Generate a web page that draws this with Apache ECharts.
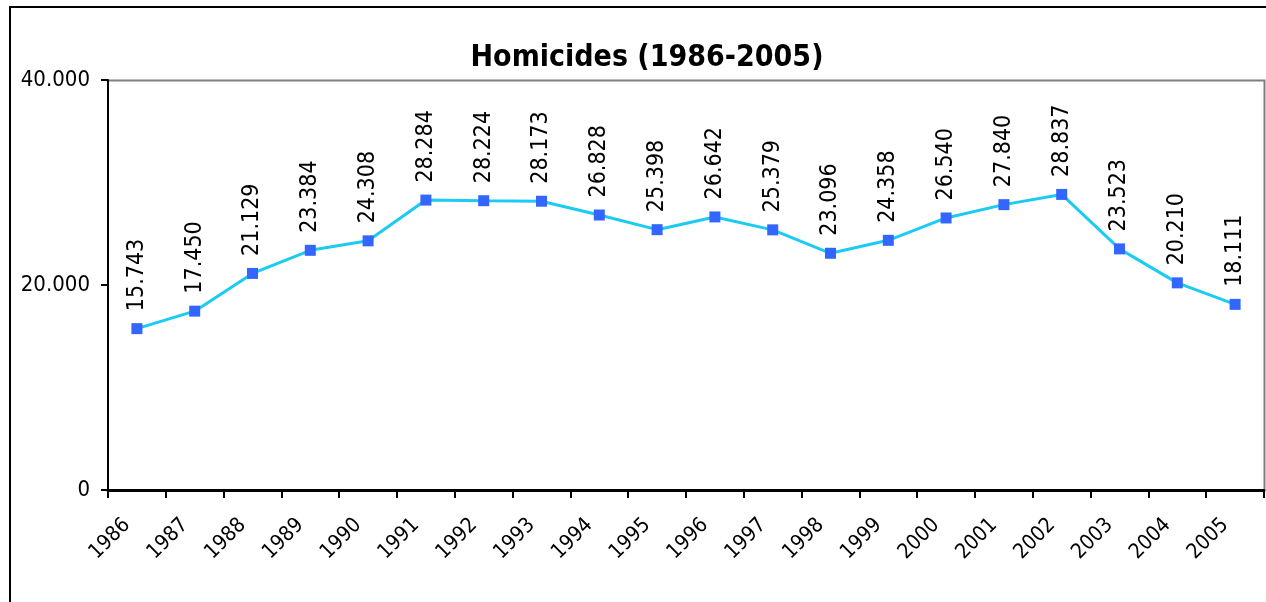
<!DOCTYPE html>
<html>
<head>
<meta charset="utf-8">
<script src="https://cdn.jsdelivr.net/npm/echarts@6/dist/echarts.min.js"></script>
<style>
  html, body { margin: 0; padding: 0; background: #fff; }
  #main { width: 1266px; height: 602px; }
</style>
</head>
<body>
<div id="main"></div>
<script>
// data
var years = ['1986','1987','1988','1989','1990','1991','1992','1993','1994','1995',
             '1996','1997','1998','1999','2000','2001','2002','2003','2004','2005'];
var homicides = [15743, 17450, 21129, 23384, 24308, 28284, 28224, 28173, 26828, 25398,
                 26642, 25379, 23096, 24358, 26540, 27840, 28837, 23523, 20210, 18111];
var yTicks = [0, 20000, 40000];

var font = '"DejaVu Sans Condensed", "DejaVu Sans", sans-serif';

// 15743 -> "15.743"
function fmt(v) {
	v = Math.round(v);
	if (v === 0) return '0';
	return String(v).replace(/\B(?=(\d{3})+(?!\d))/g, '.');
}

var myChart = echarts.init(document.getElementById('main'));
myChart.setOption({
	animation: false,
	backgroundColor: '#fff',
	title: {
		text: 'Homicides (1986-2005)',
		left: 642,
		top: 38,
		textAlign: 'center',
		textStyle: { fontFamily: font, fontWeight: 'bold', fontSize: 30, color: '#000' }
	},
	graphic: [
		{
			type: 'rect',
			shape: { x: 10, y: 7, width: 1400, height: 800 },
			style: { fill: 'none', stroke: '#000', lineWidth: 2 },
			silent: true
		},
		// gray frame on top / right of the plot
		{
			type: 'polyline',
			shape: { points: [[108, 80.5], [1264.5, 80.5], [1264.5, 490]] },
			style: { fill: 'none', stroke: '#808080', lineWidth: 2 },
			silent: true
		}
	],
	grid: { left: 108, top: 80, right: 2, bottom: 112, containLabel: false },
	xAxis: {
		type: 'category',
		data: years,
		boundaryGap: true,
		axisLine: { lineStyle: { color: '#000', width: 3 } },
		axisTick: { show: true, alignWithLabel: false, length: 8, lineStyle: { color: '#000', width: 2 } },
		axisLabel: {
			rotate: 45,
			color: '#000',
			fontFamily: font,
			fontSize: 21,
			margin: 22,
			padding: [0, 14, 0, 0]
		},
		splitLine: { show: false }
	},
	yAxis: {
		type: 'value',
		min: yTicks[0],
		max: yTicks[yTicks.length - 1],
		interval: 20000,
		axisLine: { show: true, lineStyle: { color: '#000', width: 2 } },
		axisTick: { show: true, length: 7, lineStyle: { color: '#000', width: 2 } },
		axisLabel: {
			color: '#000',
			fontFamily: font,
			fontSize: 22,
			margin: 18,
			formatter: fmt
		},
		splitLine: { show: false }
	},
	series: [{
		name: 'Homicides',
		type: 'line',
		data: homicides,
		symbol: 'rect',
		symbolSize: 11,
		itemStyle: { color: '#3366ff' },
		lineStyle: { color: '#1ccbf4', width: 3 },
		label: {
			show: true,
			position: 'top',
			rotate: 90,
			align: 'left',
			verticalAlign: 'middle',
			distance: 12,
			color: '#000',
			fontFamily: font,
			fontSize: 23,
			formatter: function (p) { return fmt(p.value); }
		},
		z: 5
	}]
});
</script>
</body>
</html>
